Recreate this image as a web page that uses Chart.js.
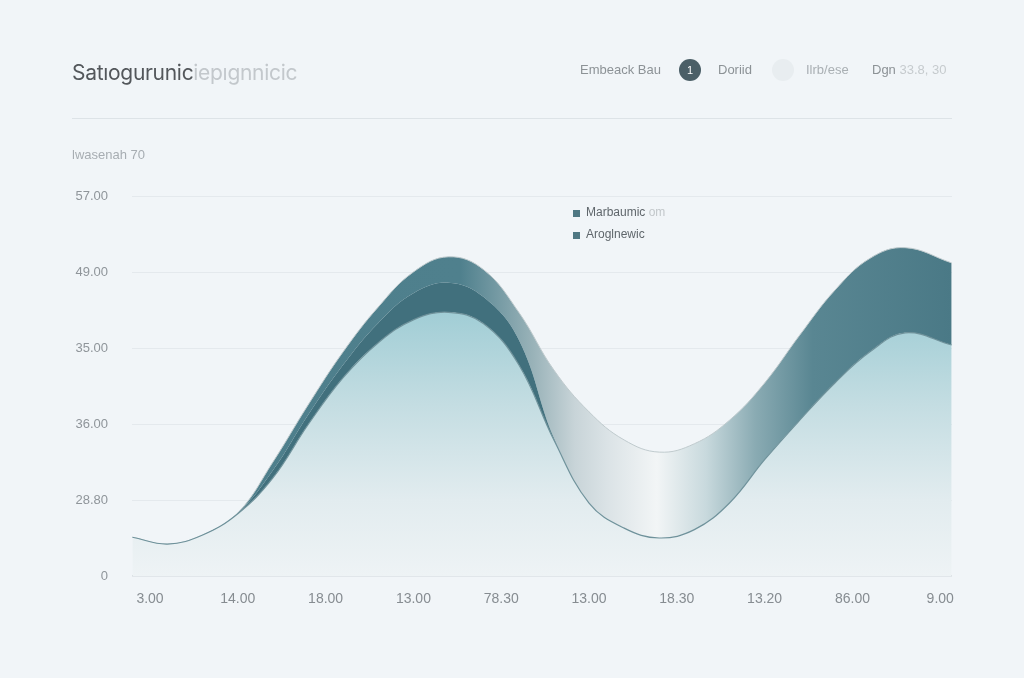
<!DOCTYPE html>
<html>
<head>
<meta charset="utf-8">
<script src="https://cdn.jsdelivr.net/npm/chart.js@4.4.1/dist/chart.umd.min.js"></script>
<style>
html, body { margin: 0; padding: 0; background: #f1f5f8; }
#wrap { position: relative; width: 1024px; height: 678px; overflow: hidden; font-family: "Liberation Sans", Arial, sans-serif; }
#chartWave { position: absolute; left: 0; top: 0; }
.t { position: absolute; white-space: nowrap; }
.title { left: 72px; top: 60px; font-family: Inter, "Noto Sans", sans-serif; font-size: 21px; color: #53575b; letter-spacing: -0.3px; }
.title span { color: #c3c8cc; }
.nav { top: 62px; font-size: 13px; color: #8c9296; }
.dot { position: absolute; border-radius: 50%; text-align: center; }
.rule { position: absolute; left: 72px; top: 118px; width: 880px; height: 1px; background: #dde3e7; }
.axisTitle { left: 72px; top: 147px; font-size: 13px; color: #a7adb2; }
.leg { font-size: 12px; color: #5f666b; }
.leg i { position: absolute; left: -13px; top: 5px; width: 7px; height: 7px; background: #4f7883; }
</style>
</head>
<body>
<div id="wrap">
  <canvas id="chartWave" width="1024" height="678"></canvas>
  <div class="t title">Satıogurunic<span>iepıgnnicic</span></div>
  <div class="t nav" style="left:580px">Embeack Bau</div>
  <div class="dot" style="left:679px;top:59px;width:22px;height:22px;background:#4b5f67;color:#fff;font-size:11px;line-height:22px;">1</div>
  <div class="t nav" style="left:718px">Doriid</div>
  <div class="dot" style="left:772px;top:59px;width:22px;height:22px;background:#e8edf0;"></div>
  <div class="t nav" style="left:806px;color:#a9afb3">Ilrb/ese</div>
  <div class="t nav" style="left:872px">Dgn <span style="color:#c6cbce">33.8, 30</span></div>
  <div class="rule"></div>
  <div class="t axisTitle">lwasenah 70</div>
  <div class="t leg" style="left:586px;top:205px"><i></i>Marbaumic <span style="color:#c2c7ca">om</span></div>
  <div class="t leg" style="left:586px;top:227px"><i></i>Aroglnewic</div>
</div>
<script>
// axis labels
var xLabels = ['3.00', '14.00', '18.00', '13.00', '78.30', '13.00', '18.30', '13.20', '86.00', '9.00'];
var xTickPos = [0, 1, 2, 3, 4, 5, 6, 7, 8, 9];
var yLabels = ['0', '28.80', '36.00', '35.00', '49.00', '57.00'];
var yTickVals = [0, 10, 20, 30, 40, 50];

// sample positions along x (in tick units) and the three wave edges
var xs = [-0.2, 0.2, 0.6, 1.0, 1.4, 1.8, 2.2, 2.6, 3.0, 3.4, 3.8, 4.2, 4.6, 5.0, 5.4, 5.8, 6.2, 6.6, 7.0, 7.4, 7.8, 8.2, 8.6, 9.13];
var lowerVals = [5.1, 4.2, 5.4, 8.2, 12.9, 19.9, 26.1, 30.7, 33.7, 34.7, 33.2, 27.8, 17.9, 9.6, 6.3, 5.0, 6.1, 9.6, 15.3, 20.5, 25.4, 29.5, 32.0, 30.4];
var middleVals = [5.1, 4.2, 5.4, 8.25, 13.9, 21.2, 27.8, 33.3, 37.2, 38.6, 36.7, 31.1, 18.2, 9.6, 6.3, 5.0, 6.1, 9.6, 15.3, 20.5, 25.4, 29.5, 32.0, 30.4];
var upperVals = [5.1, 4.2, 5.4, 8.3, 15.0, 22.5, 29.5, 35.4, 40.0, 42.0, 40.3, 34.7, 27.1, 21.6, 17.9, 16.3, 17.4, 20.5, 25.4, 31.7, 37.6, 41.8, 43.2, 41.2];

function toPoints(vals) {
  return xs.map(function(x, i) { return {x: x, y: vals[i]}; });
}

function lowerFill(ctx) {
  var area = ctx.chart.chartArea;
  if (!area) return 'rgba(0,0,0,0)';
  var g = ctx.chart.ctx.createLinearGradient(0, area.top, 0, area.bottom);
  g.addColorStop(0, '#8cc0ca');
  g.addColorStop(0.3, '#a0cdd5');
  g.addColorStop(0.55, '#c4dde2');
  g.addColorStop(0.8, '#e2ecef');
  g.addColorStop(1, '#eef3f5');
  return g;
}

// horizontal gradients for the two bands
function bandFill(stops) {
  return function(ctx) {
    var area = ctx.chart.chartArea;
    if (!area) return 'rgba(0,0,0,0)';
    var g = ctx.chart.ctx.createLinearGradient(area.left, 0, area.right, 0);
    stops.forEach(function(s) { g.addColorStop(s[0], s[1]); });
    return g;
  };
}
var tailStops = [[0.58, '#dbe3e6'], [0.64, '#f2f5f6'], [0.7, '#c8d9dd'], [0.76, '#8aabb3'], [0.83, '#598692'], [1, '#4a7986']];
var innerBand = bandFill([[0, '#41707d'], [0.5, '#41707d'], [0.55, '#9fb7bd']].concat(tailStops));
var outerBand = bandFill([[0, '#4d7e8b'], [0.4, '#4f808d'], [0.49, '#9ab3b9'], [0.54, '#c8d4d8']].concat(tailStops));

var ctx = document.getElementById('chartWave').getContext('2d');
var chart = new Chart(ctx, {
  type: 'line',
  data: {
    datasets: [
      {
        label: 'Aroglnewic',
        data: toPoints(lowerVals),
        fill: 'origin',
        backgroundColor: lowerFill,
        borderColor: '#6f929b',
        borderWidth: 1.2
      },
      {
        label: 'Marbaumic',
        data: toPoints(middleVals),
        fill: '-1',
        backgroundColor: innerBand,
        borderWidth: 0
      },
      {
        label: 'Marbaumic om',
        data: toPoints(upperVals),
        fill: '-1',
        backgroundColor: outerBand,
        borderColor: '#bfcacd',
        borderWidth: 1
      }
    ]
  },
  options: {
    animation: false,
    responsive: false,
    elements: { point: { radius: 0 }, line: { tension: 0.4 } },
    layout: { padding: { left: 0, top: 196, right: 72, bottom: 0 } },
    plugins: { legend: { display: false }, tooltip: { enabled: false } },
    scales: {
      x: {
        type: 'linear',
        min: -0.205,
        max: 9.134,
        afterBuildTicks: function(axis) { axis.ticks = xTickPos.map(function(v) { return {value: v}; }); },
        afterFit: function(axis) { axis.height = 102; },
        grid: { display: false, drawTicks: false },
        border: { display: false },
        ticks: {
          padding: 15,
          color: '#868c91',
          font: { family: '"Liberation Sans", Arial, sans-serif', size: 14 },
          callback: function(v, i) { return xLabels[i]; }
        }
      },
      y: {
        min: 0,
        max: 50,
        afterBuildTicks: function(axis) { axis.ticks = yTickVals.map(function(v) { return {value: v}; }); },
        afterFit: function(axis) { axis.width = 132; },
        grid: {
          drawTicks: false,
          color: function(c) { return c.tick && c.tick.value === 0 ? '#d2d8dc' : '#e4e9ed'; },
          lineWidth: function(c) { return c.tick && c.tick.value === 0 ? 1.5 : 1; }
        },
        border: { display: false },
        ticks: {
          padding: 24,
          color: '#8f959a',
          font: { family: '"Liberation Sans", Arial, sans-serif', size: 13 },
          callback: function(v, i) { return yLabels[i]; }
        }
      }
    }
  }
});
</script>
</body>
</html>
